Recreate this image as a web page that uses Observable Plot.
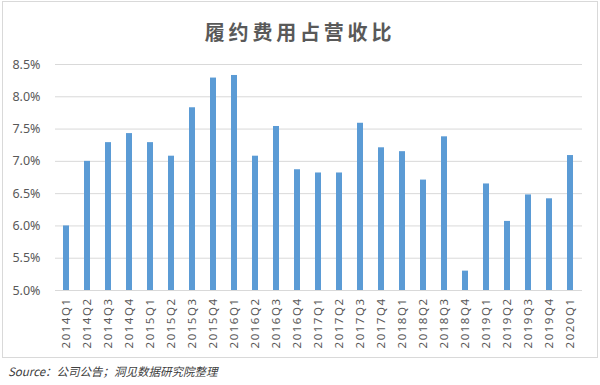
<!DOCTYPE html>
<html>
<head>
<meta charset="utf-8">
<script src="https://cdn.jsdelivr.net/npm/d3@7"></script>
<script src="https://cdn.jsdelivr.net/npm/@observablehq/plot@0.6"></script>
<style>
  html, body { margin: 0; padding: 0; background: #fff; }
  #wrap { position: relative; width: 600px; height: 385px; overflow: hidden; font-family: "Noto Sans CJK SC", "Noto Sans", sans-serif; }
  #frame { position: absolute; left: 2px; top: 1px; width: 596px; height: 357px; box-sizing: border-box; border: 1px solid #d9d9d9; }
  #title { position: absolute; left: 0; width: 600px; top: 18px; text-align: center; font-size: 20px; font-weight: bold; color: #595959; letter-spacing: 3.8px; line-height: 28px; }
  #chart { position: absolute; left: 0; top: 50px; }
  #chart g[aria-label="x-axis tick label"] text { letter-spacing: 1.5px; }
  #source { position: absolute; left: 8px; top: 363px; font-size: 11.5px; font-style: italic; color: #404040; line-height: 16px; }
</style>
</head>
<body>
<div id="wrap">
  <div id="frame"></div>
  <div id="title">履约费用占营收比</div>
  <div id="chart"></div>
  <div id="source">Source：公司公告；洞见数据研究院整理</div>
</div>
<script>
const quarters = ["2014Q1","2014Q2","2014Q3","2014Q4","2015Q1","2015Q2","2015Q3","2015Q4","2016Q1","2016Q2","2016Q3","2016Q4","2017Q1","2017Q2","2017Q3","2017Q4","2018Q1","2018Q2","2018Q3","2018Q4","2019Q1","2019Q2","2019Q3","2019Q4","2020Q1"];
const ratios = [6.00, 7.00, 7.29, 7.43, 7.29, 7.08, 7.83, 8.29, 8.33, 7.08, 7.54, 6.87, 6.82, 6.82, 7.59, 7.21, 7.15, 6.71, 7.38, 5.30, 6.65, 6.07, 6.48, 6.42, 7.09];
const yTicks = [5.0, 5.5, 6.0, 6.5, 7.0, 7.5, 8.0, 8.5];

const data = quarters.map((q, i) => ({q, v: ratios[i]}));

const chart = Plot.plot({
  width: 600,
  height: 310,
  marginLeft: 55,
  marginRight: 18,
  marginTop: 14,
  marginBottom: 70,
  style: { fontFamily: "'Noto Sans', 'DejaVu Sans', sans-serif", color: "#595959", background: "transparent" },
  x: { domain: quarters, paddingInner: 0.71, paddingOuter: 0.355, label: null },
  y: { domain: [5, 8.5], label: null },
  marks: [
    Plot.ruleY(yTicks, { stroke: "#d9d9d9", strokeWidth: 1 }),
    Plot.barY(data, { x: "q", y1: 5, y2: "v", fill: "#5b9bd5" }),
    Plot.axisY({ ticks: yTicks, tickSize: 0, tickPadding: 15, tickFormat: d => d.toFixed(1) + "%", fontSize: 12.5, fill: "#595959", label: null }),
    Plot.axisX({ tickSize: 0, tickPadding: 7, tickRotate: -90, fontSize: 11.5, fill: "#595959", label: null })
  ]
});
document.getElementById("chart").appendChild(chart);
</script>
</body>
</html>
